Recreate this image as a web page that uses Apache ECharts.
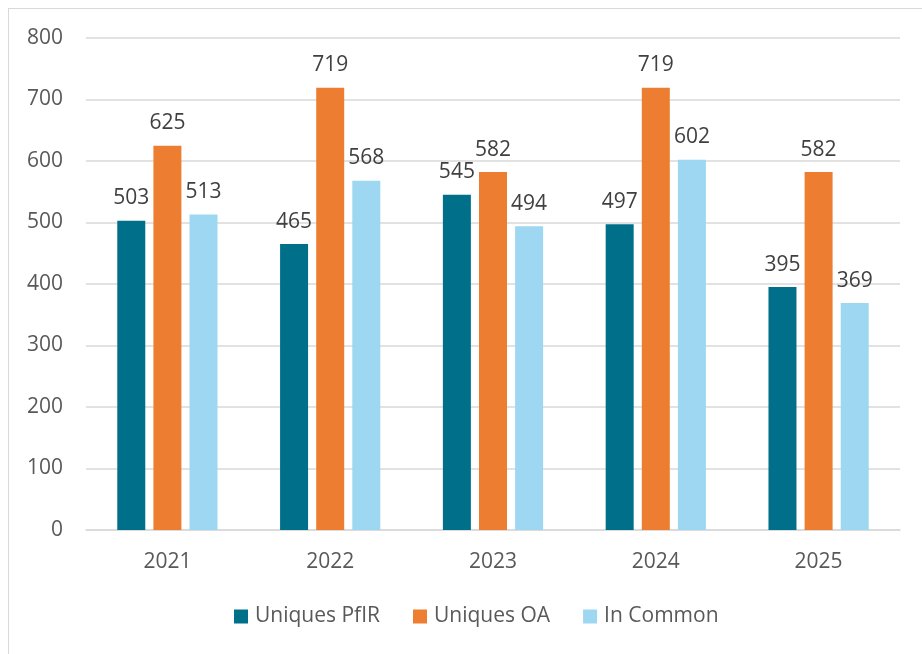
<!DOCTYPE html>
<html>
<head>
<meta charset="utf-8">
<script src="https://cdn.jsdelivr.net/npm/echarts@6/dist/echarts.min.js"></script>
<style>
  * { margin: 0; padding: 0; }
  body { width: 922px; height: 654px; background: #fff; overflow: hidden; position: relative; }
  .frame {
    position: absolute; left: 8px; top: 8px; width: 930px; height: 660px;
    border: 1px solid #d9d9d9; box-sizing: border-box;
  }
  #chart1 { position: absolute; left: 0; top: 0; width: 922px; height: 654px; }
</style>
</head>
<body>
<div class="frame"></div>
<div id="chart1"></div>
<script>
var years = ['2021', '2022', '2023', '2024', '2025'];
var uniquesPfIR = [503, 465, 545, 497, 395];
var uniquesOA = [625, 719, 582, 719, 582];
var inCommon = [513, 568, 494, 602, 369];

var font = 'Open Sans, Lato, sans-serif';
var chart = echarts.init(document.getElementById('chart1'));

function bar(name, data, color) {
  return {
    name: name,
    type: 'bar',
    data: data,
    barWidth: 28,
    barGap: '29%',
    itemStyle: { color: color },
    label: {
      show: true,
      position: 'top',
      distance: 12,
      color: '#404040',
      fontSize: 21,
      fontFamily: font
    }
  };
}

chart.setOption({
  animation: false,
  grid: { left: 86, right: 22, top: 38, bottom: 124 },
  legend: {
    bottom: 22,
    left: 229,
    itemWidth: 14,
    itemHeight: 14,
    itemGap: 33,
    icon: 'rect',
    textStyle: { color: '#595959', fontSize: 21, fontFamily: font, padding: [0, 0, 0, 2] }
  },
  xAxis: {
    type: 'category',
    data: years,
    axisTick: { show: false },
    axisLine: { lineStyle: { color: '#d9d9d9', width: 1.5 } },
    axisLabel: { color: '#595959', fontSize: 21, fontFamily: font, margin: 22 }
  },
  yAxis: {
    type: 'value',
    min: 0,
    max: 800,
    interval: 100,
    axisLine: { show: false },
    axisTick: { show: false },
    splitLine: { lineStyle: { color: '#d9d9d9', width: 1.5 } },
    axisLabel: { color: '#595959', fontSize: 21, fontFamily: font, margin: 23 }
  },
  series: [
    bar('Uniques PfIR', uniquesPfIR, '#006F89'),
    bar('Uniques OA', uniquesOA, '#ED7D31'),
    bar('In Common', inCommon, '#9DD7F1')
  ]
});
</script>
</body>
</html>
